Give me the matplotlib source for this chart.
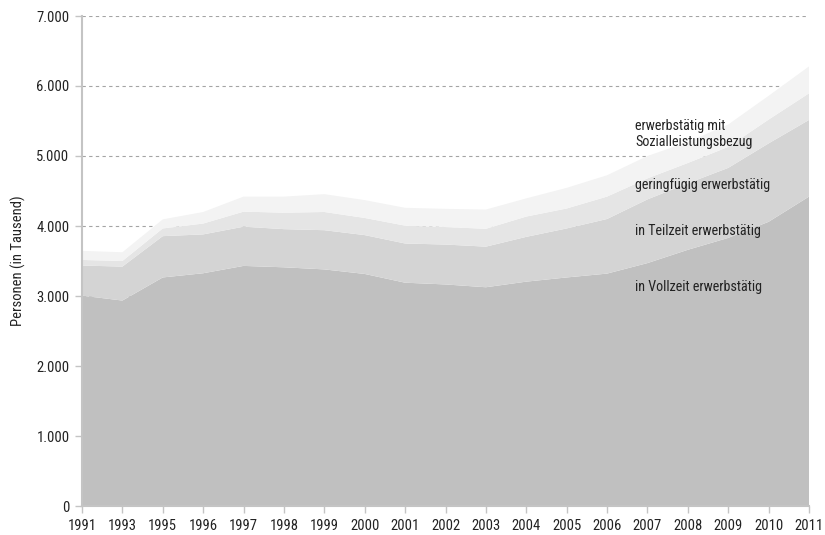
import numpy as np
import matplotlib
matplotlib.use("Agg")
import matplotlib.pyplot as plt
from matplotlib.ticker import FuncFormatter

plt.rcParams['font.family'] = ['Liberation Sans Narrow', 'Roboto Condensed',
                               'DejaVu Sans Condensed', 'Liberation Sans', 'DejaVu Sans']

years = ["1991", "1993", "1995", "1996", "1997", "1998", "1999", "2000", "2001", "2002",
         "2003", "2004", "2005", "2006", "2007", "2008", "2009", "2010", "2011"]

# Personen in Tausend
vollzeit = [3005, 2935, 3265, 3325, 3430, 3410, 3380, 3315, 3190, 3165,
            3125, 3205, 3265, 3320, 3470, 3660, 3830, 4060, 4420]
teilzeit = [430, 485, 590, 555, 560, 545, 560, 555, 560, 570,
            580, 640, 700, 780, 910, 950, 1000, 1120, 1095]
geringfuegig = [80, 80, 110, 155, 215, 235, 260, 245, 255, 250,
                255, 290, 285, 320, 300, 290, 300, 340, 380]
sozialleistung = [130, 125, 130, 165, 215, 230, 255, 255, 255, 260,
                  275, 260, 295, 305, 320, 300, 320, 340, 385]

colors = ["#c0c0c0", "#d4d4d4", "#e5e5e5", "#f3f3f3"]
txt = "#222222"
axis_grey = "#c4c4c4"

fig = plt.figure(figsize=(8.25, 5.35), dpi=100)
ax = fig.add_axes([82 / 825, 1 - 506 / 535, (809 - 82) / 825, (506 - 16) / 535])

x = np.arange(len(years))
ax.stackplot(x, vollzeit, teilzeit, geringfuegig, sozialleistung,
             colors=colors, linewidth=0, zorder=2)

ax.set_xlim(0, len(years) - 1)
ax.set_ylim(0, 7000)
ax.set_xticks(x)
ax.set_xticklabels(years)
ax.set_yticks(np.arange(0, 7001, 1000))
ax.yaxis.set_major_formatter(FuncFormatter(lambda v, p: f"{int(v):,}".replace(",", ".")))

ax.grid(axis="y", linestyle=(0, (3, 3)), color="#a4a4a4", linewidth=0.8, zorder=1)
ax.set_axisbelow(True)

for s in ["top", "right"]:
    ax.spines[s].set_visible(False)
for s in ["left", "bottom"]:
    ax.spines[s].set_color(axis_grey)
    ax.spines[s].set_linewidth(1.5)
    ax.spines[s].set_zorder(3)

ax.tick_params(axis="both", colors=axis_grey, labelcolor=txt, labelsize=10.5, length=5, width=1)
ax.tick_params(axis="x", pad=4)
ax.tick_params(axis="y", pad=4)

ax.set_ylabel("Personen (in Tausend)", fontsize=10.5, color=txt)
ax.yaxis.set_label_coords(-0.077, 0.5)

label_x = 13.7
ax.text(label_x, 5314, "erwerbstätig mit\nSozialleistungsbezug", fontsize=10.2,
        color=txt, va="center", ha="left", linespacing=1.1, zorder=4)
ax.text(label_x, 4586, "geringfügig erwerbstätig", fontsize=10.2, color=txt,
        va="center", ha="left", zorder=4)
ax.text(label_x, 3929, "in Teilzeit erwerbstätig", fontsize=10.2, color=txt,
        va="center", ha="left", zorder=4)
ax.text(label_x, 3129, "in Vollzeit erwerbstätig", fontsize=10.2, color=txt,
        va="center", ha="left", zorder=4)

fig.savefig("out.png", dpi=100)
